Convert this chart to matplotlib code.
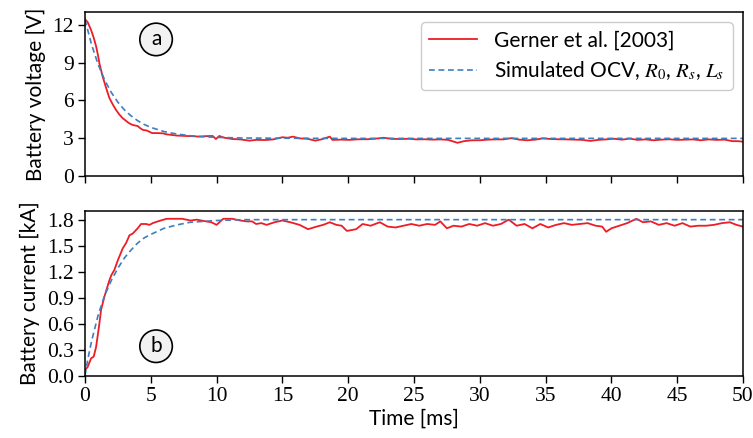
import matplotlib
matplotlib.use("Agg")
import matplotlib.pyplot as plt

# ---- data ----
t_meas_v = [0, 0.2, 0.45, 0.65, 0.84, 1.0, 1.1, 1.34, 1.6, 1.85, 2.1, 2.36, 2.6, 2.86, 3.1, 3.35,
            3.62, 4.0, 4.2, 4.4, 4.7, 5.1, 5.5, 5.9, 6.2, 6.6, 7.0, 7.7, 8.2, 8.7, 9.2, 9.7, 9.95,
            10.2, 10.6, 11.2, 11.8, 12.5, 13.0, 13.7, 14.3, 15.0, 15.4, 15.8, 16.3, 16.9, 17.5,
            18.0, 18.6, 18.8, 19.5, 20.1, 20.8, 21.4, 22.0, 22.7, 23.3, 24.0, 24.6, 25.2, 25.8,
            26.4, 27.0, 27.6, 28.3, 28.8, 29.4, 30.0, 30.6, 31.2, 31.8, 32.4, 33.0, 33.6, 34.2,
            34.8, 35.4, 36.0, 36.6, 37.2, 37.8, 38.4, 39.0, 39.6, 40.2, 40.8, 41.4, 42.0, 42.6,
            43.2, 43.8, 44.4, 45.0, 45.6, 46.2, 46.8, 47.4, 48.0, 48.6, 49.2, 49.6, 50.0]
v_meas = [12.43, 12.2, 11.6, 11.0, 10.3, 9.5, 8.9, 7.9, 7.0, 6.2, 5.7, 5.25, 4.9, 4.6, 4.4, 4.2,
          4.06, 3.98, 3.8, 3.67, 3.62, 3.42, 3.42, 3.4, 3.32, 3.27, 3.22, 3.19, 3.17, 3.14, 3.18,
          3.19, 2.95, 3.19, 3.05, 2.95, 2.92, 2.82, 2.88, 2.87, 2.92, 3.09, 3.05, 3.14, 3.0, 2.97,
          2.82, 2.93, 3.14, 2.88, 2.9, 2.88, 2.93, 2.93, 2.97, 3.05, 2.96, 2.95, 2.97, 2.92, 2.93,
          2.90, 2.92, 2.88, 2.65, 2.78, 2.85, 2.85, 2.90, 2.92, 2.92, 3.02, 2.90, 2.85, 2.90,
          3.00, 2.95, 2.93, 2.92, 2.90, 2.88, 2.80, 2.88, 2.92, 2.97, 2.90, 2.98, 2.88, 2.92,
          2.85, 2.90, 2.93, 2.88, 2.90, 2.92, 2.85, 2.92, 2.88, 2.90, 2.78, 2.78, 2.74]

t_sim_v = [0, 0.5, 1.0, 1.5, 2.0, 2.5, 3.0, 3.5, 4.0, 4.5, 5.0, 6.0, 7.0, 8.0, 9.0, 10.0, 12.0,
           15.0, 20.0, 30.0, 40.0, 50.0]
v_sim = [12.4, 10.41, 8.84, 7.60, 6.63, 5.86, 5.25, 4.78, 4.40, 4.10, 3.87, 3.54, 3.34, 3.21,
         3.13, 3.08, 3.03, 3.01, 3.0, 3.0, 3.0, 3.0]

t_meas_i = [0, 0.2, 0.46, 0.66, 0.84, 1.0, 1.09, 1.22, 1.47, 1.85, 2.0, 2.23, 2.49, 2.87, 3.12,
            3.38, 3.63, 4.0, 4.26, 4.64, 4.9, 5.15, 5.53, 6.2, 7.4, 8.0, 8.5, 9.2, 9.6, 10.0,
            10.5, 11.2, 11.8, 12.3, 12.7, 13.0, 13.4, 13.8, 14.4, 15.0, 15.6, 16.3, 16.95, 17.6,
            18.1, 18.6, 19.1, 19.5, 19.9, 20.6, 21.1, 21.7, 22.4, 23.0, 23.6, 24.2, 24.8, 25.4,
            26.0, 26.6, 27.0, 27.5, 28.0, 28.6, 29.2, 29.8, 30.4, 31.0, 31.6, 32.2, 32.8, 33.4,
            34.0, 34.6, 35.2, 35.8, 36.4, 37.0, 37.6, 38.2, 38.8, 39.3, 39.6, 40.0, 40.6, 41.2,
            41.9, 42.4, 43.0, 43.6, 44.2, 44.8, 45.4, 46.0, 46.6, 47.2, 47.8, 48.4, 49.0, 49.5,
            50.0]
i_meas = [0.065, 0.10, 0.2, 0.22, 0.33, 0.5, 0.6, 0.76, 0.91, 1.10, 1.16, 1.22, 1.33, 1.47, 1.53,
          1.62, 1.64, 1.70, 1.75, 1.75, 1.74, 1.76, 1.78, 1.81, 1.81, 1.79, 1.80, 1.78, 1.77, 1.74,
          1.81, 1.81, 1.79, 1.78, 1.78, 1.75, 1.76, 1.74, 1.77, 1.79, 1.77, 1.74, 1.69, 1.72,
          1.74, 1.77, 1.74, 1.73, 1.67, 1.69, 1.75, 1.73, 1.77, 1.72, 1.71, 1.73, 1.75, 1.73,
          1.75, 1.74, 1.78, 1.70, 1.73, 1.72, 1.75, 1.73, 1.76, 1.73, 1.75, 1.80, 1.73, 1.75,
          1.70, 1.75, 1.71, 1.74, 1.76, 1.74, 1.75, 1.76, 1.73, 1.72, 1.66, 1.70, 1.73, 1.76,
          1.81, 1.77, 1.78, 1.74, 1.76, 1.73, 1.76, 1.72, 1.73, 1.73, 1.74, 1.76, 1.77, 1.74,
          1.72]

t_sim_i = [0, 0.2, 0.5, 1.0, 1.5, 2.0, 2.5, 3.0, 3.5, 4.0, 4.5, 5.0, 6.0, 7.0, 8.0, 9.0, 10.0,
           12.0, 15.0, 50.0]
i_sim = [0.0, 0.18, 0.40, 0.70, 0.93, 1.10, 1.24, 1.36, 1.45, 1.53, 1.59, 1.63, 1.70, 1.74,
         1.77, 1.78, 1.79, 1.80, 1.80, 1.80]

labels = ["Gerner et al. [2003]", r"Simulated OCV, $R_0$, $R_s$, $L_s$"]
xticks = [0, 5, 10, 15, 20, 25, 30, 35, 40, 45, 50]
v_ticks = [0, 3, 6, 9, 12]
i_ticks = [0.0, 0.3, 0.6, 0.9, 1.2, 1.5, 1.8]

RED = "#ee1c25"
BLUE = "#3c7fc2"
TICK_FONT = "Liberation Serif"
TICK_SIZE = 15.5
LABEL_SIZE = 15

plt.rcParams["mathtext.fontset"] = "stix"
plt.rcParams["font.family"] = ["Lato", "DejaVu Sans"]

fig = plt.figure(figsize=(7.53, 4.38), dpi=100)
ax1 = fig.add_axes([0.1129, 0.5975, 0.8738, 0.3751])
ax2 = fig.add_axes([0.1129, 0.1422, 0.8738, 0.3761])

for ax in (ax1, ax2):
    ax.set_xlim(0, 50)
    ax.set_xticks(xticks)
    ax.tick_params(direction="out", length=5, width=1.0, pad=3)
    for s in ax.spines.values():
        s.set_linewidth(1.1)

dash = (0, (3.5, 2.2))
ax1.plot(t_meas_v, v_meas, color=RED, lw=1.3, label=labels[0])
ax1.plot(t_sim_v, v_sim, color=BLUE, lw=1.2, ls=dash, label=labels[1])
ax1.set_ylim(0, 13)
ax1.set_yticks(v_ticks)
ax1.set_yticklabels([str(v) for v in v_ticks])
ax1.set_xticklabels([])
ax1.set_ylabel("Battery voltage [V]", fontsize=LABEL_SIZE, labelpad=5)

ax2.plot(t_meas_i, i_meas, color=RED, lw=1.3)
ax2.plot(t_sim_i, i_sim, color=BLUE, lw=1.2, ls=dash)
ax2.set_ylim(0, 1.9)
ax2.set_yticks(i_ticks)
ax2.set_yticklabels([f"{v:.1f}" for v in i_ticks])
ax2.set_xticklabels([str(x) for x in xticks])
ax2.set_ylabel("Battery current [kA]", fontsize=LABEL_SIZE, labelpad=5)
ax2.set_xlabel("Time [ms]", fontsize=LABEL_SIZE, labelpad=2)

for lab in ax1.get_yticklabels() + ax2.get_yticklabels() + ax2.get_xticklabels():
    lab.set_fontfamily(TICK_FONT)
    lab.set_fontsize(TICK_SIZE)

leg = ax1.legend(loc="upper right", fontsize=LABEL_SIZE, handlelength=2.3, framealpha=1,
                 edgecolor="#cccccc", borderaxespad=0.5, labelspacing=0.4)

bbox = dict(boxstyle="circle,pad=0.3", fc="#f2f2f2", ec="black", lw=1.2)
ax1.text(5.4, 10.83, "a", fontsize=LABEL_SIZE, ha="center", va="center", bbox=bbox)
ax2.text(5.4, 0.34, "b", fontsize=LABEL_SIZE, ha="center", va="center", bbox=bbox)

fig.savefig("out.png", dpi=100)
